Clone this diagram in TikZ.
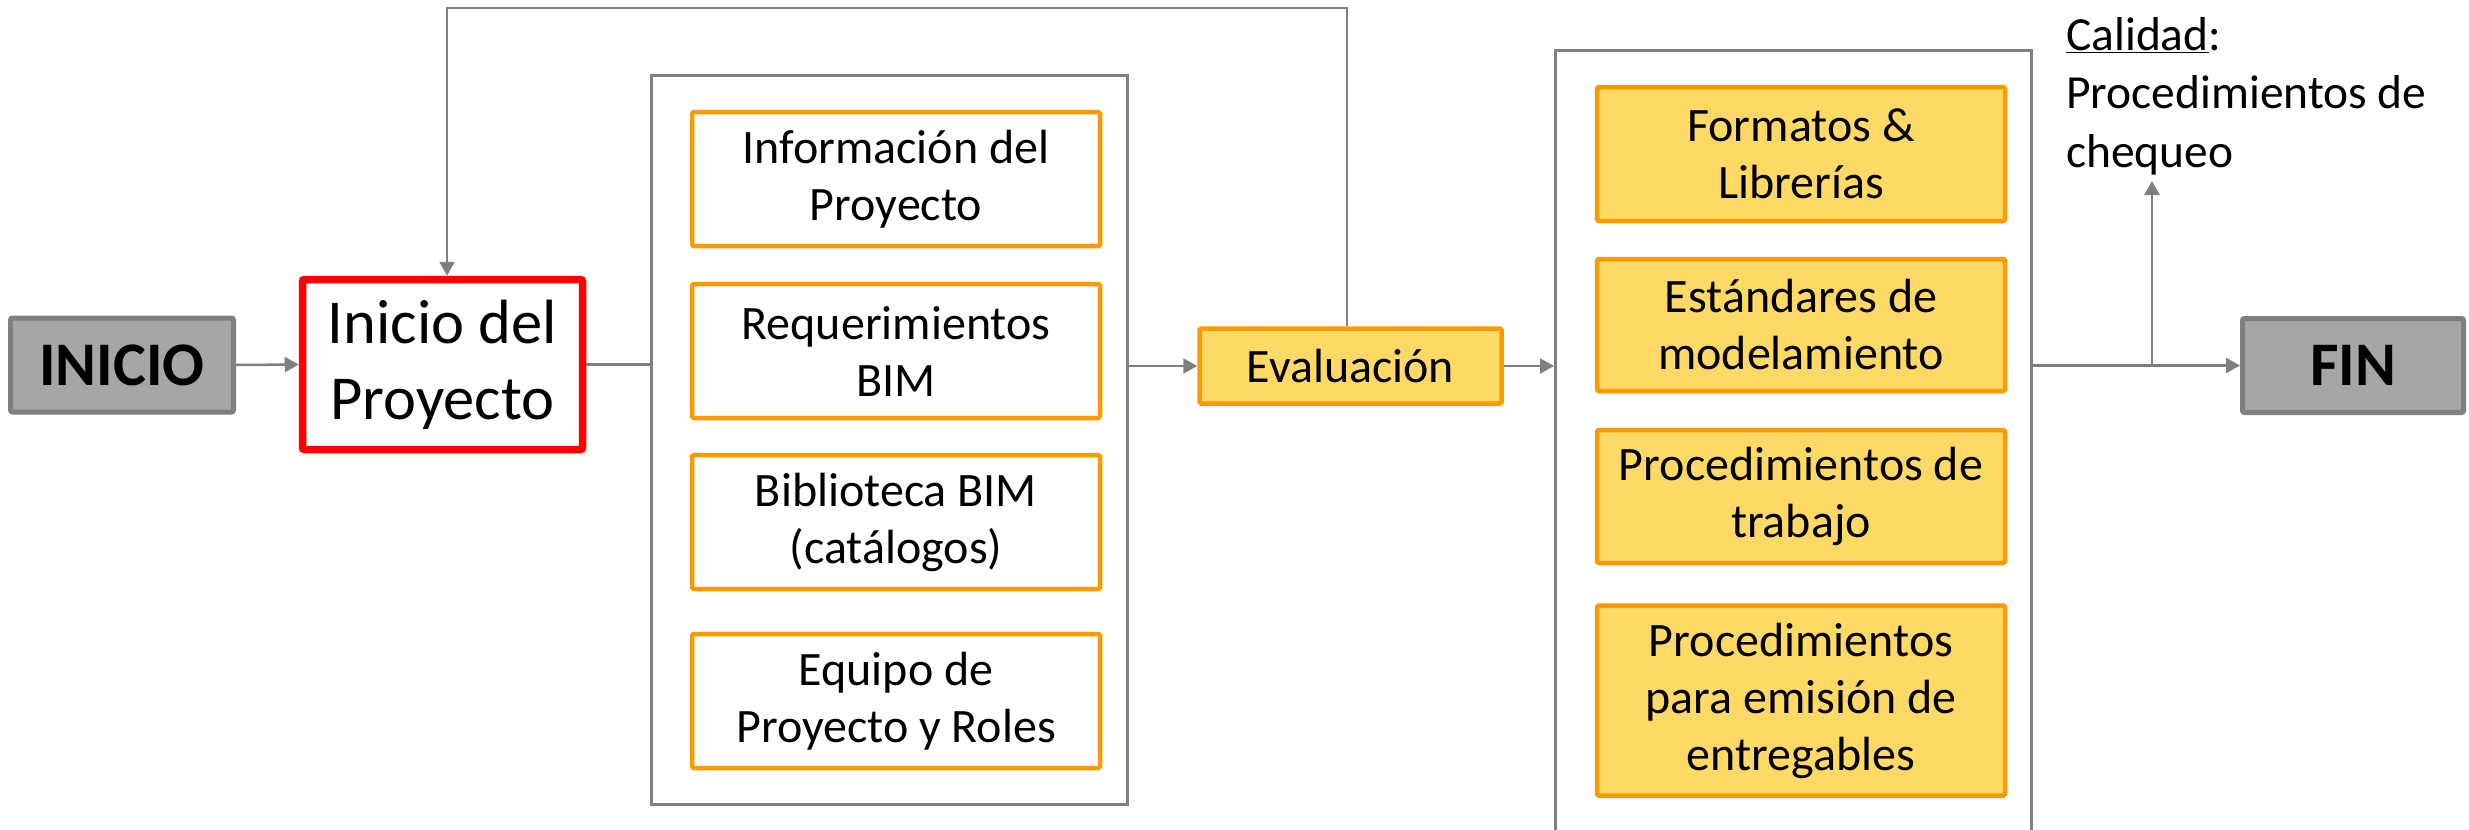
\documentclass[tikz,border=0pt]{standalone}
\usepackage{fontspec}
\setmainfont{Carlito}
\usetikzlibrary{arrows.meta}
\definecolor{lgray}{RGB}{127,127,127}
\definecolor{boxgray}{RGB}{166,166,166}
\definecolor{org}{RGB}{255,153,0}
\definecolor{gold}{RGB}{255,217,102}
\definecolor{redb}{RGB}{255,0,0}
\begin{document}
\begin{tikzpicture}[x=1pt,y=-1pt,
  conn/.style={draw=lgray,line width=2.5pt},
  arr/.style={conn,-{Triangle[length=14pt,width=15pt]}},
  fb/.style={draw=lgray,line width=2pt,-{Triangle[length=14pt,width=15pt]}},
  endbox/.style={draw=lgray,fill=boxgray,line width=5pt,rounded corners=2pt,minimum width=#1,minimum height=94pt,inner sep=0pt,font=\fontsize{62}{75}\selectfont\bfseries},
  frame/.style={draw=lgray,line width=3pt,inner sep=0pt},
  wbox/.style={draw=org,fill=white,line width=4.5pt,rounded corners=1.5pt,minimum width=408pt,minimum height=134pt,inner sep=0pt,align=center,font=\fontsize{48}{57}\selectfont},
  ybox/.style={wbox,fill=gold}
]
\useasboundingbox (0,0) rectangle (2469,830);
\clip (0,0) rectangle (2469,830);

\node[endbox=223pt] (inicio) at (122,365) {INICIO};
\node[draw=redb,fill=white,line width=7.5pt,rounded corners=2pt,minimum width=280pt,minimum height=170pt,inner sep=0pt,align=center,font=\fontsize{62.5}{76}\selectfont] (proy) at (442.5,364.5) {\raisebox{-4pt}{Inicio del}\\\raisebox{-4pt}{Proyecto}};

\node[frame,minimum width=476pt,minimum height=729pt] (boxL) at (889.5,440) {};
\node[wbox] (l1) at (896,179) {Información del\\Proyecto};
\node[wbox] (l2) at (896,351) {Requerimientos\\BIM};
\node[wbox] (l3) at (896,522) {Biblioteca BIM\\(catálogos)};
\node[wbox] (l4) at (896,701) {Equipo de\\Proyecto y Roles};

\node[ybox,minimum width=302pt,minimum height=75pt] (eval) at (1350.5,366) {Evaluación};

\node[frame,minimum width=476pt,minimum height=800pt] (boxR) at (1793.5,450) {};
\node[ybox] (r1) at (1801,154) {Formatos \&\\Librerías};
\node[ybox,minimum height=132pt] (r2) at (1801,325) {Estándares de\\modelamiento};
\node[ybox,minimum height=133pt] (r3) at (1801,496.5) {Procedimientos de\\trabajo};
\node[ybox,minimum height=190pt] (r4) at (1801,700.5) {Procedimientos\\para emisión de\\entregables};

\node[endbox=221pt] (fin) at (2353,365.5) {FIN};

\node[anchor=north west,inner sep=0pt,align=left,font=\fontsize{47.5}{58.5}\selectfont] (cal) at (2066,17) {\underline{Calidad}:\\Procedimientos de\\chequeo};

\draw[arr] (inicio.east) -- (proy.west);
\draw[conn] (proy.east) -- (proy.east -| boxL.west);
\draw[arr] (boxL.east |- eval.west) -- (eval.west);
\draw[arr] (eval.east) -- (eval.east -| boxR.west);
\draw[arr] (boxR.east |- fin.west) -- (fin.west);
\coordinate (br) at (2152,366);
\coordinate (calTip) at (2152,181);
\draw[arr] (br) -- (calTip);
\coordinate (fbR) at (1347,8);
\coordinate (fbL) at (447,8);
\draw[fb] (eval.north -| fbR) -- (fbR) -- (fbL) -- (fbL |- proy.north);
\end{tikzpicture}
\end{document}
